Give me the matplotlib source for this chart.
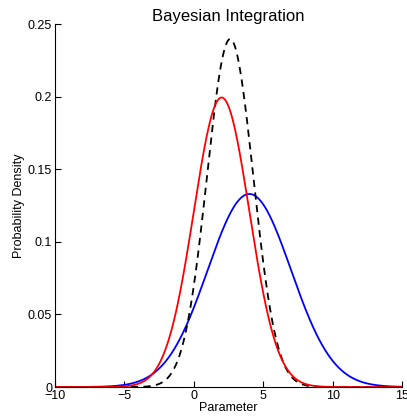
import numpy as np
import matplotlib
matplotlib.use("Agg")
import matplotlib.pyplot as plt

plt.rcParams['font.family'] = ['Liberation Sans', 'DejaVu Sans']

# Distribution parameters (mean, standard deviation)
prior_mean, prior_sd = 2.0, 2.0          # red
likelihood_mean, likelihood_sd = 4.0, 3.0  # blue
posterior_mean, posterior_sd = 2.615, 1.664  # black dashed

x_range = [-10, 15]
y_range = [0, 0.25]
x_ticks = [-10, -5, 0, 5, 10, 15]
y_ticks = [0, 0.05, 0.1, 0.15, 0.2, 0.25]
y_tick_labels = ['0', '0.05', '0.1', '0.15', '0.2', '0.25']

def pdf(x, m, s):
    return np.exp(-0.5 * ((x - m) / s) ** 2) / (s * np.sqrt(2 * np.pi))

x = np.linspace(x_range[0], x_range[1], 1001)

fig = plt.figure(figsize=(4.07, 4.16), dpi=100)
ax = fig.add_axes([0.135, 0.0697, 0.853, 0.8723])
ax.plot(x, pdf(x, likelihood_mean, likelihood_sd), color='blue', lw=1.3)
ax.plot(x, pdf(x, posterior_mean, posterior_sd), color='black', lw=1.3, ls=(0, (4, 3)))
ax.plot(x, pdf(x, prior_mean, prior_sd), color='red', lw=1.3)

ax.set_xlim(x_range)
ax.set_ylim(y_range)
ax.set_xticks(x_ticks)
ax.set_xticklabels(['\u221210', '\u22125', '0', '5', '10', '15'])
ax.set_yticks(y_ticks)
ax.set_yticklabels(y_tick_labels)
ax.spines['top'].set_visible(False)
ax.spines['right'].set_visible(False)
ax.tick_params(direction='in', length=4, labelsize=9, pad=2)
ax.set_xlabel('Parameter', fontsize=9, labelpad=0)
ax.set_ylabel('Probability Density', fontsize=9, labelpad=2)
ax.set_title('Bayesian Integration', fontsize=12, pad=2)

fig.savefig('out.png', dpi=100)
